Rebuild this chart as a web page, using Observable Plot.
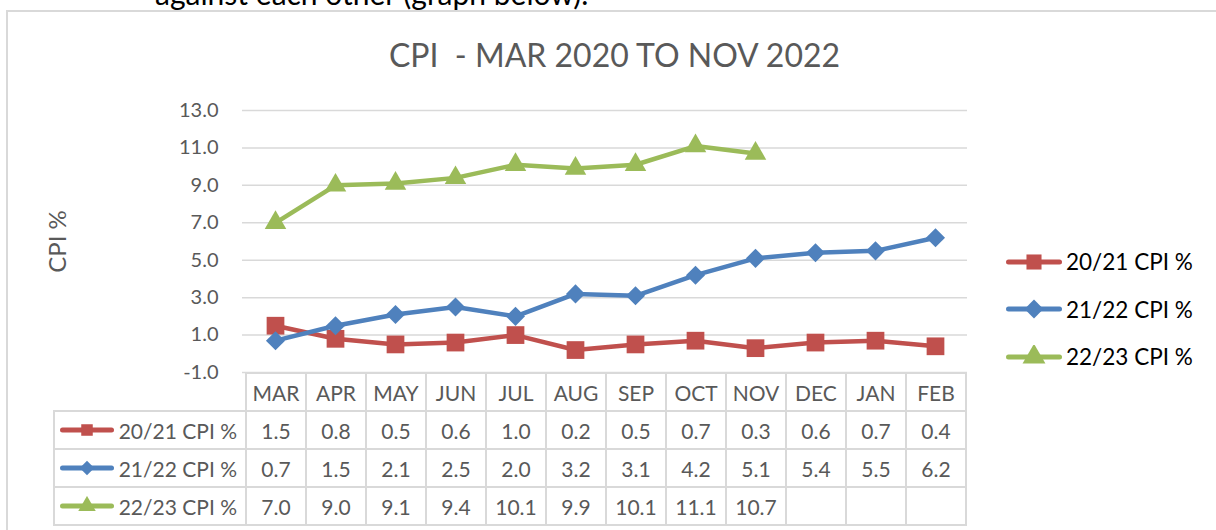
<!DOCTYPE html>
<html><head><meta charset="utf-8">
<script src="https://cdn.jsdelivr.net/npm/d3@7"></script>
<script src="https://cdn.jsdelivr.net/npm/@observablehq/plot@0.6"></script>
<style>
body{margin:0;background:#fff;font-family:Lato,"Liberation Sans",sans-serif;}
#wrap{position:relative;width:1216px;height:530px;overflow:hidden;background:#fff;}
#cut{position:absolute;left:155px;top:-22px;font-size:30px;line-height:1;color:#000;white-space:nowrap;}
#frame{position:absolute;left:6px;top:10px;width:1300px;height:600px;border:2px solid #d9d9d9;box-sizing:border-box;}
#title{position:absolute;left:0;width:1229px;top:35px;text-align:center;font-size:32px;line-height:40px;color:#595959;white-space:pre;}
#plot{position:absolute;left:0;top:0;}
#table{position:absolute;left:53px;top:372px;border-collapse:collapse;table-layout:fixed;font-size:21px;color:#595959;}
#table td,#table th{border:2px solid #d9d9d9;padding:0;text-align:center;font-weight:normal;height:36px;}
#table th.blank{border:none;}
.lab{display:flex;align-items:center;justify-content:space-between;padding:0 8px 0 4px;}
#legend{position:absolute;left:1005px;top:0;}
.li{position:absolute;left:0;display:flex;align-items:center;white-space:nowrap;font-size:22.5px;color:#000;height:30px;}
</style></head><body>
<div id="wrap">
  <div id="cut">against each other (graph below).</div>
  <div id="frame"></div>
  <div id="title">CPI  - MAR 2020 TO NOV 2022</div>
  <div id="plot"></div>
  <table id="table"></table>
  <div id="legend"></div>
</div>
<script>
const months = ["MAR","APR","MAY","JUN","JUL","AUG","SEP","OCT","NOV","DEC","JAN","FEB"];
const seriesNames = ["20/21 CPI %","21/22 CPI %","22/23 CPI %"];
const cpi2021 = [1.5,0.8,0.5,0.6,1.0,0.2,0.5,0.7,0.3,0.6,0.7,0.4];
const cpi2122 = [0.7,1.5,2.1,2.5,2.0,3.2,3.1,4.2,5.1,5.4,5.5,6.2];
const cpi2223 = [7.0,9.0,9.1,9.4,10.1,9.9,10.1,11.1,10.7,null,null,null];
const yTicks = [-1,1,3,5,7,9,11,13];
const colors = ["#C0504D","#4F81BD","#9BBB59"];
const symbols = ["square","diamond2","triangle"];
const radii = [10,8.6,8];

const seriesValues = [cpi2021,cpi2122,cpi2223];
const series = seriesNames.map((name,i)=>({
  name, color: colors[i], symbol: symbols[i], r: radii[i],
  rows: seriesValues[i].map((v,j)=>({month: months[j], value: v})).filter(d=>d.value!=null)
}));

const marks = [
  Plot.gridY(yTicks, {stroke:"#d9d9d9", strokeOpacity:1, strokeWidth:1.5}),
  Plot.axisY(yTicks, {tickSize:0, tickPadding:24, tickFormat:d=>d.toFixed(1), fontSize:20, label:null}),
  Plot.text(["CPI %"], {frameAnchor:"left", dx:-184, rotate:-90, textAnchor:"middle", fontSize:24, fill:"#595959"})
];
for (const s of series) {
  marks.push(Plot.line(s.rows, {x:"month", y:"value", stroke:s.color, strokeWidth:4.5, strokeLinejoin:"round", strokeLinecap:"round"}));
  marks.push(Plot.dot(s.rows, {x:"month", y:"value", symbol:()=>s.symbol, fill:s.color, stroke:"none", r:s.r}));
}
const chart = Plot.plot({
  width:1216, height:390,
  marginTop:110, marginBottom:18, marginLeft:242, marginRight:249,
  style:{background:"transparent", color:"#595959", fontFamily:"Lato, sans-serif", overflow:"visible"},
  x:{type:"point", domain:months, padding:0.5, align:0.5, axis:null},
  y:{domain:[-1,13]},
  symbol:{type:"identity"},
  marks
});
document.getElementById("plot").appendChild(chart);

function swatch(s, w, h, lw, ms) {
  const ns="http://www.w3.org/2000/svg";
  const svg=document.createElementNS(ns,"svg");
  svg.setAttribute("width",w); svg.setAttribute("height",h);
  const line=document.createElementNS(ns,"line");
  line.setAttribute("x1",lw/2+1); line.setAttribute("x2",w-lw/2-1);
  line.setAttribute("y1",h/2); line.setAttribute("y2",h/2);
  line.setAttribute("stroke",s.color); line.setAttribute("stroke-width",lw); line.setAttribute("stroke-linecap","round");
  svg.appendChild(line);
  const symMap={square:d3.symbolSquare, diamond2:d3.symbolDiamond2, triangle:d3.symbolTriangle};
  const p=document.createElementNS(ns,"path");
  p.setAttribute("d", d3.symbol(symMap[s.symbol], ms*ms*Math.PI)());
  p.setAttribute("transform",`translate(${w/2},${h/2})`);
  p.setAttribute("fill",s.color);
  svg.appendChild(p);
  return svg;
}

// data table, columns aligned with the x scale
const xs = chart.scale("x");
const colW = xs.step;
const firstLeft = xs.apply(months[0]) - colW/2;
const tableLeft = 53;
const table = document.getElementById("table");
const cg = document.createElement("colgroup");
const c0 = document.createElement("col"); c0.style.width = (firstLeft-tableLeft)+"px"; cg.appendChild(c0);
months.forEach(()=>{const c=document.createElement("col"); c.style.width=colW+"px"; cg.appendChild(c);});
table.appendChild(cg);
const hr = document.createElement("tr");
const blank = document.createElement("th"); blank.className="blank"; hr.appendChild(blank);
months.forEach(m=>{const th=document.createElement("th"); th.textContent=m; hr.appendChild(th);});
table.appendChild(hr);
series.forEach((s,i)=>{
  const tr=document.createElement("tr");
  const td=document.createElement("td");
  const div=document.createElement("div"); div.className="lab";
  div.appendChild(swatch(s,56,20,5,6.5));
  const sp=document.createElement("span"); sp.textContent=s.name; div.appendChild(sp);
  td.appendChild(div); tr.appendChild(td);
  seriesValues[i].forEach(v=>{const c=document.createElement("td"); c.textContent = v==null? "" : v.toFixed(1); tr.appendChild(c);});
  table.appendChild(tr);
});
table.style.width = (firstLeft-tableLeft + colW*months.length)+"px";

// legend
const legend=document.getElementById("legend");
const legY=[261.7,309.3,356.7];
series.forEach((s,i)=>{
  const d=document.createElement("div"); d.className="li"; d.style.top=(legY[i]-15)+"px";
  d.appendChild(swatch(s,58,24,5,8.5));
  const sp=document.createElement("span"); sp.textContent=s.name; sp.style.marginLeft="3px";
  d.appendChild(sp);
  legend.appendChild(d);
});
</script>
</body></html>
